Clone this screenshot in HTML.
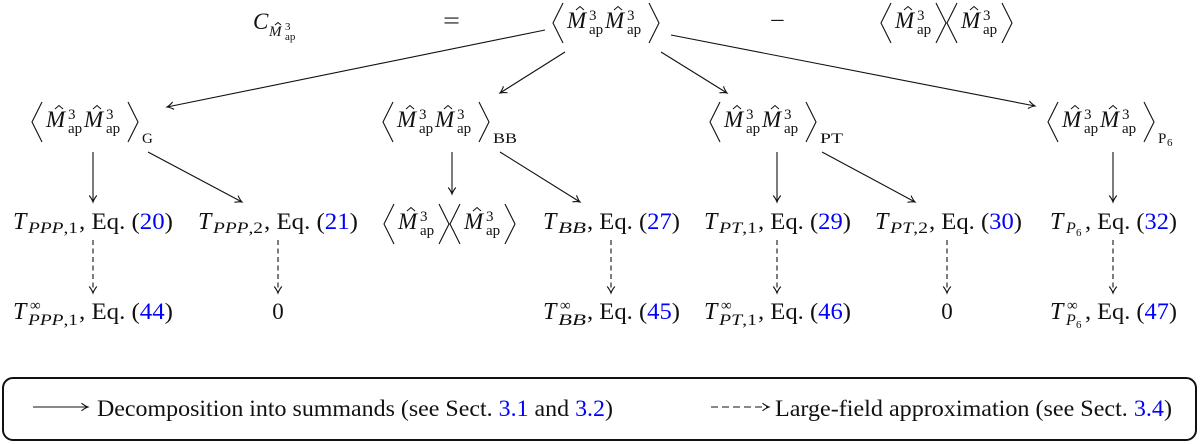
<!DOCTYPE html>
<html>
<head>
<meta charset="utf-8">
<style>
  html, body { margin:0; padding:0; background:#fff; }
  svg { display:block; }
  text { font-family:"Liberation Serif", "DejaVu Serif", serif; fill:#111; font-weight:normal; }
  .m { font-size:23px; font-style:italic; }
  .tt { font-size:24px; font-style:italic; }
  .t { font-size:23px; }
  .sm { font-size:15px; }
  .sb { font-size:16px; }
  .xs { font-size:11px; }
  .it { font-style:italic; }
  .bl { fill:#0000ff; }
  .ln { stroke:#111; stroke-width:1.1; fill:none; }
  .br { stroke:#111; stroke-width:1.1; fill:none; stroke-linejoin:miter; }
  .ht { stroke:#111; stroke-width:1; fill:none; }
  .ds { stroke-dasharray:5 3.5; }
</style>
</head>
<body>
<svg width="1200" height="444" viewBox="0 0 1200 444" xmlns="http://www.w3.org/2000/svg">
  <defs>
    <marker id="ah" viewBox="0 0 10 10" refX="8" refY="5" markerWidth="10" markerHeight="10" orient="auto" markerUnits="userSpaceOnUse">
      <path d="M1.5,1.2 Q5,4 8,5 Q5,6 1.5,8.8" fill="none" stroke="#111" stroke-width="1.1" stroke-dasharray="none"/>
    </marker>
  </defs>

  <!-- ===== Top row ===== -->
  <text class="m" x="253" y="29">C</text>
  <text class="sm it" x="269" y="36">M</text>
  <path class="ht" d="M275,25 L278,22.5 L281,25"/>
  <text class="xs" x="285" y="30">3</text>
  <text class="xs" x="285" y="40">ap</text>

  <text class="t" x="443" y="28" textLength="17" lengthAdjust="spacingAndGlyphs">=</text>

  <g transform="translate(553,28)">
    <path class="br" d="M10,-25 L0,-5 L10,15"/>
    <text class="m" x="14" y="0">M</text>
    <path class="ht" d="M23,-18 L27,-21.5 L31,-18"/>
    <text class="sm" x="36" y="-8">3</text>
    <text class="sm" x="36" y="6">ap</text>
    <text class="m" x="52" y="0">M</text>
    <path class="ht" d="M61,-18 L65,-21.5 L69,-18"/>
    <text class="sm" x="74" y="-8">3</text>
    <text class="sm" x="74" y="6">ap</text>
    <path class="br" d="M96,-25 L106,-5 L96,15"/>
  </g>

  <text class="t" x="770" y="28" textLength="15" lengthAdjust="spacingAndGlyphs">−</text>

  <g transform="translate(881,28)">
    <path class="br" d="M10,-25 L0,-5 L10,15"/>
    <text class="m" x="14" y="0">M</text>
    <path class="ht" d="M23,-18 L27,-21.5 L31,-18"/>
    <text class="sm" x="36" y="-8">3</text>
    <text class="sm" x="36" y="6">ap</text>
    <path class="br" d="M55,-25 L65,-5 L55,15"/>
    <path class="br" d="M76,-25 L66,-5 L76,15"/>
    <text class="m" x="80" y="0">M</text>
    <path class="ht" d="M89,-18 L93,-21.5 L97,-18"/>
    <text class="sm" x="102" y="-8">3</text>
    <text class="sm" x="102" y="6">ap</text>
    <path class="br" d="M121,-25 L131,-5 L121,15"/>
  </g>

  <!-- top arrows -->
  <line class="ln" x1="545" y1="30" x2="167" y2="107" marker-end="url(#ah)"/>
  <line class="ln" x1="565" y1="52" x2="500" y2="93" marker-end="url(#ah)"/>
  <line class="ln" x1="661" y1="52" x2="727" y2="93" marker-end="url(#ah)"/>
  <line class="ln" x1="671" y1="35" x2="1035" y2="106" marker-end="url(#ah)"/>

  <!-- ===== Row 2 nodes ===== -->
  <g transform="translate(32,127)">
    <path class="br" d="M10,-25 L0,-5 L10,15"/>
    <text class="m" x="14" y="0">M</text>
    <path class="ht" d="M23,-18 L27,-21.5 L31,-18"/>
    <text class="sm" x="36" y="-8">3</text>
    <text class="sm" x="36" y="6">ap</text>
    <text class="m" x="52" y="0">M</text>
    <path class="ht" d="M61,-18 L65,-21.5 L69,-18"/>
    <text class="sm" x="74" y="-8">3</text>
    <text class="sm" x="74" y="6">ap</text>
    <path class="br" d="M96,-25 L106,-5 L96,15"/>
  </g>
  <text class="sm" x="142" y="143">G</text>

  <g transform="translate(383,127)">
    <path class="br" d="M10,-25 L0,-5 L10,15"/>
    <text class="m" x="14" y="0">M</text>
    <path class="ht" d="M23,-18 L27,-21.5 L31,-18"/>
    <text class="sm" x="36" y="-8">3</text>
    <text class="sm" x="36" y="6">ap</text>
    <text class="m" x="52" y="0">M</text>
    <path class="ht" d="M61,-18 L65,-21.5 L69,-18"/>
    <text class="sm" x="74" y="-8">3</text>
    <text class="sm" x="74" y="6">ap</text>
    <path class="br" d="M96,-25 L106,-5 L96,15"/>
  </g>
  <text class="sm" x="493" y="143" textLength="24" lengthAdjust="spacingAndGlyphs">BB</text>

  <g transform="translate(710,127)">
    <path class="br" d="M10,-25 L0,-5 L10,15"/>
    <text class="m" x="14" y="0">M</text>
    <path class="ht" d="M23,-18 L27,-21.5 L31,-18"/>
    <text class="sm" x="36" y="-8">3</text>
    <text class="sm" x="36" y="6">ap</text>
    <text class="m" x="52" y="0">M</text>
    <path class="ht" d="M61,-18 L65,-21.5 L69,-18"/>
    <text class="sm" x="74" y="-8">3</text>
    <text class="sm" x="74" y="6">ap</text>
    <path class="br" d="M96,-25 L106,-5 L96,15"/>
  </g>
  <text class="sm" x="820" y="143" textLength="23" lengthAdjust="spacingAndGlyphs">PT</text>

  <g transform="translate(1048,127)">
    <path class="br" d="M10,-25 L0,-5 L10,15"/>
    <text class="m" x="14" y="0">M</text>
    <path class="ht" d="M23,-18 L27,-21.5 L31,-18"/>
    <text class="sm" x="36" y="-8">3</text>
    <text class="sm" x="36" y="6">ap</text>
    <text class="m" x="52" y="0">M</text>
    <path class="ht" d="M61,-18 L65,-21.5 L69,-18"/>
    <text class="sm" x="74" y="-8">3</text>
    <text class="sm" x="74" y="6">ap</text>
    <path class="br" d="M96,-25 L106,-5 L96,15"/>
  </g>
  <text class="sm" x="1158" y="143">P</text>
  <text class="xs" x="1167" y="146">6</text>

  <!-- row2 -> row3 arrows -->
  <line class="ln" x1="93" y1="152" x2="93" y2="202" marker-end="url(#ah)"/>
  <line class="ln" x1="148" y1="152" x2="242" y2="202" marker-end="url(#ah)"/>
  <line class="ln" x1="452" y1="152" x2="452" y2="194" marker-end="url(#ah)"/>
  <line class="ln" x1="500" y1="152" x2="580" y2="202" marker-end="url(#ah)"/>
  <line class="ln" x1="777" y1="152" x2="777" y2="202" marker-end="url(#ah)"/>
  <line class="ln" x1="822" y1="152" x2="915" y2="202" marker-end="url(#ah)"/>
  <line class="ln" x1="1113" y1="152" x2="1113" y2="202" marker-end="url(#ah)"/>

  <!-- ===== Row 3 ===== -->
  <text class="tt" x="13" y="229">T</text>
  <text class="sb" x="28" y="233" textLength="50" lengthAdjust="spacingAndGlyphs"><tspan class="it">PPP</tspan>,1</text>
  <text class="t" x="79" y="229" textLength="94" lengthAdjust="spacingAndGlyphs">, Eq. (<tspan class="bl">20</tspan>)</text>

  <text class="tt" x="198" y="229">T</text>
  <text class="sb" x="213" y="233" textLength="50" lengthAdjust="spacingAndGlyphs"><tspan class="it">PPP</tspan>,2</text>
  <text class="t" x="264" y="229" textLength="94" lengthAdjust="spacingAndGlyphs">, Eq. (<tspan class="bl">21</tspan>)</text>

  <g transform="translate(384,229)">
    <path class="br" d="M10,-25 L0,-5 L10,15"/>
    <text class="m" x="14" y="0">M</text>
    <path class="ht" d="M23,-18 L27,-21.5 L31,-18"/>
    <text class="sm" x="36" y="-8">3</text>
    <text class="sm" x="36" y="6">ap</text>
    <path class="br" d="M55,-25 L65,-5 L55,15"/>
    <path class="br" d="M76,-25 L66,-5 L76,15"/>
    <text class="m" x="80" y="0">M</text>
    <path class="ht" d="M89,-18 L93,-21.5 L97,-18"/>
    <text class="sm" x="102" y="-8">3</text>
    <text class="sm" x="102" y="6">ap</text>
    <path class="br" d="M121,-25 L131,-5 L121,15"/>
  </g>

  <text class="tt" x="543" y="229">T</text>
  <text class="sb it" x="558" y="233" textLength="28" lengthAdjust="spacingAndGlyphs">BB</text>
  <text class="t" x="587" y="229" textLength="93" lengthAdjust="spacingAndGlyphs">, Eq. (<tspan class="bl">27</tspan>)</text>

  <text class="tt" x="704" y="229">T</text>
  <text class="sb" x="719" y="233" textLength="38" lengthAdjust="spacingAndGlyphs"><tspan class="it">PT</tspan>,1</text>
  <text class="t" x="758" y="229" textLength="93" lengthAdjust="spacingAndGlyphs">, Eq. (<tspan class="bl">29</tspan>)</text>

  <text class="tt" x="875" y="229">T</text>
  <text class="sb" x="890" y="233" textLength="38" lengthAdjust="spacingAndGlyphs"><tspan class="it">PT</tspan>,2</text>
  <text class="t" x="929" y="229" textLength="93" lengthAdjust="spacingAndGlyphs">, Eq. (<tspan class="bl">30</tspan>)</text>

  <text class="tt" x="1050" y="229">T</text>
  <text class="sb it" x="1066" y="233">P</text>
  <text class="xs" x="1076" y="236">6</text>
  <text class="t" x="1085" y="229" textLength="92" lengthAdjust="spacingAndGlyphs">, Eq. (<tspan class="bl">32</tspan>)</text>

  <!-- dashed arrows -->
  <line class="ln ds" x1="93" y1="240" x2="93" y2="293" marker-end="url(#ah)"/>
  <line class="ln ds" x1="278" y1="240" x2="278" y2="293" marker-end="url(#ah)"/>
  <line class="ln ds" x1="611" y1="240" x2="611" y2="293" marker-end="url(#ah)"/>
  <line class="ln ds" x1="777" y1="240" x2="777" y2="293" marker-end="url(#ah)"/>
  <line class="ln ds" x1="947" y1="240" x2="947" y2="293" marker-end="url(#ah)"/>
  <line class="ln ds" x1="1113" y1="240" x2="1113" y2="293" marker-end="url(#ah)"/>

  <!-- ===== Row 4 ===== -->
  <text class="tt" x="13" y="319">T</text>
  <text class="sm" x="30" y="310">∞</text>
  <text class="sb" x="28" y="325" textLength="50" lengthAdjust="spacingAndGlyphs"><tspan class="it">PPP</tspan>,1</text>
  <text class="t" x="79" y="319" textLength="94" lengthAdjust="spacingAndGlyphs">, Eq. (<tspan class="bl">44</tspan>)</text>

  <text class="t" x="278" y="319" text-anchor="middle">0</text>

  <text class="tt" x="543" y="319">T</text>
  <text class="sm" x="560" y="310">∞</text>
  <text class="sb it" x="558" y="325" textLength="28" lengthAdjust="spacingAndGlyphs">BB</text>
  <text class="t" x="587" y="319" textLength="93" lengthAdjust="spacingAndGlyphs">, Eq. (<tspan class="bl">45</tspan>)</text>

  <text class="tt" x="704" y="319">T</text>
  <text class="sm" x="721" y="310">∞</text>
  <text class="sb" x="719" y="325" textLength="38" lengthAdjust="spacingAndGlyphs"><tspan class="it">PT</tspan>,1</text>
  <text class="t" x="758" y="319" textLength="93" lengthAdjust="spacingAndGlyphs">, Eq. (<tspan class="bl">46</tspan>)</text>

  <text class="t" x="947" y="319" text-anchor="middle">0</text>

  <text class="tt" x="1050" y="319">T</text>
  <text class="sm" x="1067" y="310">∞</text>
  <text class="sb it" x="1066" y="325">P</text>
  <text class="xs" x="1076" y="328">6</text>
  <text class="t" x="1085" y="319" textLength="92" lengthAdjust="spacingAndGlyphs">, Eq. (<tspan class="bl">47</tspan>)</text>

  <!-- ===== Legend ===== -->
  <rect x="3" y="378" width="1193" height="62" rx="10" ry="10" fill="none" stroke="#111" stroke-width="2"/>
  <line class="ln" x1="33" y1="407" x2="88" y2="407" marker-end="url(#ah)"/>
  <text class="t" x="97" y="416" textLength="516" lengthAdjust="spacingAndGlyphs">Decomposition into summands (see Sect. <tspan class="bl">3.1</tspan> and <tspan class="bl">3.2</tspan>)</text>
  <line class="ln" x1="711" y1="407" x2="769" y2="407" stroke-dasharray="7 4" marker-end="url(#ah)"/>
  <text class="t" x="775" y="416" textLength="397" lengthAdjust="spacingAndGlyphs">Large-field approximation (see Sect. <tspan class="bl">3.4</tspan>)</text>
</svg>
</body>
</html>
